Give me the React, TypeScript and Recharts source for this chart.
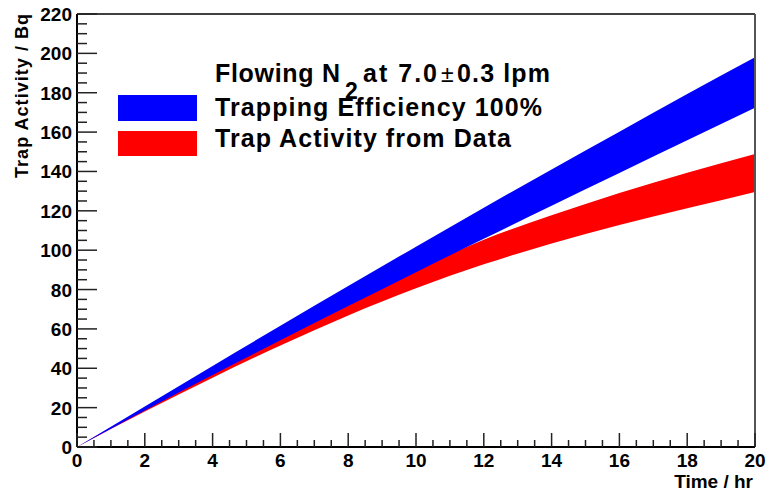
import React from 'react';
import { ComposedChart, Area, XAxis, YAxis, ReferenceLine, Legend } from 'recharts';

const FONT = '"Liberation Sans", Arial, Helvetica, sans-serif';

// time in hours
const hours = [0, 2, 4, 6, 8, 10, 12, 14, 16, 18, 20];
// expected trap activity for 100% trapping efficiency (lower / upper edge, Bq)
const fullLow = [0, 18.6, 36.6, 54.2, 71.6, 88.8, 105.8, 122.6, 139.2, 155.8, 172.4];
const fullHigh = [0, 20.6, 41.2, 61.6, 81.8, 101.8, 121.6, 141, 160.2, 179.3, 198];
// trap activity derived from data (lower / upper edge, Bq)
const dataLow = [0, 18, 35.2, 51.6, 66.8, 80.6, 92.8, 103.4, 112.8, 121.3, 129.6];
const dataHigh = [0, 19.5, 38.5, 56.5, 73.5, 89.8, 105.3, 117.7, 129, 139.4, 148.9];

const xMajor = [0, 2, 4, 6, 8, 10, 12, 14, 16, 18, 20];
const yMajor = [0, 20, 40, 60, 80, 100, 120, 140, 160, 180, 200, 220];

const seriesNames = {
  full: 'Trapping Efficiency 100%',
  data: 'Trap Activity from Data',
};

const chartData = hours.map((t, i) => ({
  t,
  data: [dataLow[i], dataHigh[i]],
  full: [fullLow[i], fullHigh[i]],
}));

// major ticks plus 4 subdivisions each (ROOT style)
const withMinor = (major: number[], n: number) => {
  const out: number[] = [];
  major.forEach((v, i) => {
    if (i > 0) {
      const step = (v - major[i - 1]) / n;
      for (let k = 1; k < n; k++) out.push(major[i - 1] + k * step);
    }
    out.push(v);
  });
  return out;
};
const xTicks = withMinor(xMajor, 4);
const yTicks = withMinor(yMajor, 4);

const XTick = (props: any) => {
  const { x, y, payload } = props;
  const major = xMajor.includes(payload.value);
  return (
    <g>
      <line x1={x} x2={x} y1={y} y2={y - (major ? 14 : 7)} stroke="#222" strokeWidth={1.5} />
      {major && (
        <text x={x} y={y + 20} textAnchor="middle" fontFamily={FONT} fontWeight="bold" fontSize={19} fill="#000">
          {payload.value}
        </text>
      )}
    </g>
  );
};

const YTick = (props: any) => {
  const { x, y, payload } = props;
  const major = yMajor.includes(payload.value);
  return (
    <g>
      <line x1={x} x2={x + (major ? 20 : 10)} y1={y} y2={y} stroke="#222" strokeWidth={1.5} />
      {major && (
        <text x={x - 5} y={y + 7} textAnchor="end" fontFamily={FONT} fontWeight="bold" fontSize={19} fill="#000">
          {payload.value}
        </text>
      )}
    </g>
  );
};

const textStyle = { fontFamily: FONT, fontWeight: 'bold' as const, fill: '#000' };

const LegendBox = (props: any) => {
  const payload: any[] = props.payload || [];
  const colorOf = (key: string, fallback: string) =>
    (payload.find((p) => p.dataKey === key) || {}).color || fallback;
  return (
    <svg width={768} height={170} style={{ display: 'block' }}>
      <text x={215} y={82} fontSize={25} textLength={125} {...textStyle}>Flowing N</text>
      <text x={345} y={99} fontSize={23} {...textStyle}>2</text>
      <text x={363} y={82} fontSize={25} textLength={74} {...textStyle}>at 7.0</text>
      <text x={441} y={82} fontSize={23} fontFamily={FONT} fill="#000">±</text>
      <text x={457} y={82} fontSize={25} textLength={93} {...textStyle}>0.3 lpm</text>

      <rect x={118} y={95} width={79} height={26} fill={colorOf('full', '#0000ff')} />
      <text x={215} y={116} fontSize={25} textLength={327} {...textStyle}>{seriesNames.full}</text>

      <rect x={118} y={131} width={79} height={25} fill={colorOf('data', '#ff0000')} />
      <text x={215} y={147} fontSize={25} textLength={296} {...textStyle}>{seriesNames.data}</text>
    </svg>
  );
};

export default function App() {
  return (
    <div style={{ position: 'absolute', left: 0, top: 0, width: 768, height: 492, background: '#fff' }}>
      <ComposedChart width={768} height={492} data={chartData} margin={{ top: 14, right: 13, bottom: 0, left: 0 }}>
        <XAxis
          dataKey="t"
          type="number"
          domain={[0, 20]}
          ticks={xTicks}
          interval={0}
          tickSize={0}
          tickMargin={0}
          tickLine={false}
          tick={<XTick />}
          height={45}
          axisLine={{ stroke: '#000', strokeWidth: 2 }}
          label={{
            content: ({ viewBox }: any) => (
              <text x={viewBox.x + viewBox.width - 2} y={viewBox.y + 41} textAnchor="end" fontSize={19} {...textStyle}>
                Time / hr
              </text>
            ),
          }}
        />
        <YAxis
          type="number"
          domain={[0, 220]}
          ticks={yTicks}
          interval={0}
          tickSize={0}
          tickMargin={0}
          tickLine={false}
          tick={<YTick />}
          width={77}
          axisLine={{ stroke: '#000', strokeWidth: 2 }}
          label={{
            content: ({ viewBox }: any) => (
              <text
                x={28}
                y={viewBox.y}
                textAnchor="end"
                fontSize={18}
                textLength={164}
                transform={`rotate(-90, 28, ${viewBox.y})`}
                {...textStyle}
              >
                Trap Activity / Bq
              </text>
            ),
          }}
        />
        <ReferenceLine y={220} stroke="#000" strokeWidth={1.5} />
        <ReferenceLine x={20} stroke="#555" strokeWidth={2} />
        <Area
          dataKey="data"
          name={seriesNames.data}
          type="monotone"
          fill="#ff0000"
          fillOpacity={1}
          stroke="none"
          dot={false}
          activeDot={false}
          isAnimationActive={false}
        />
        <Area
          dataKey="full"
          name={seriesNames.full}
          type="monotone"
          fill="#0000ff"
          fillOpacity={1}
          stroke="none"
          dot={false}
          activeDot={false}
          isAnimationActive={false}
        />
        <Legend
          layout="vertical"
          align="center"
          verticalAlign="middle"
          content={<LegendBox />}
          wrapperStyle={{ left: 0, top: 0, width: 768, height: 170, pointerEvents: 'none' }}
        />
      </ComposedChart>
    </div>
  );
}
